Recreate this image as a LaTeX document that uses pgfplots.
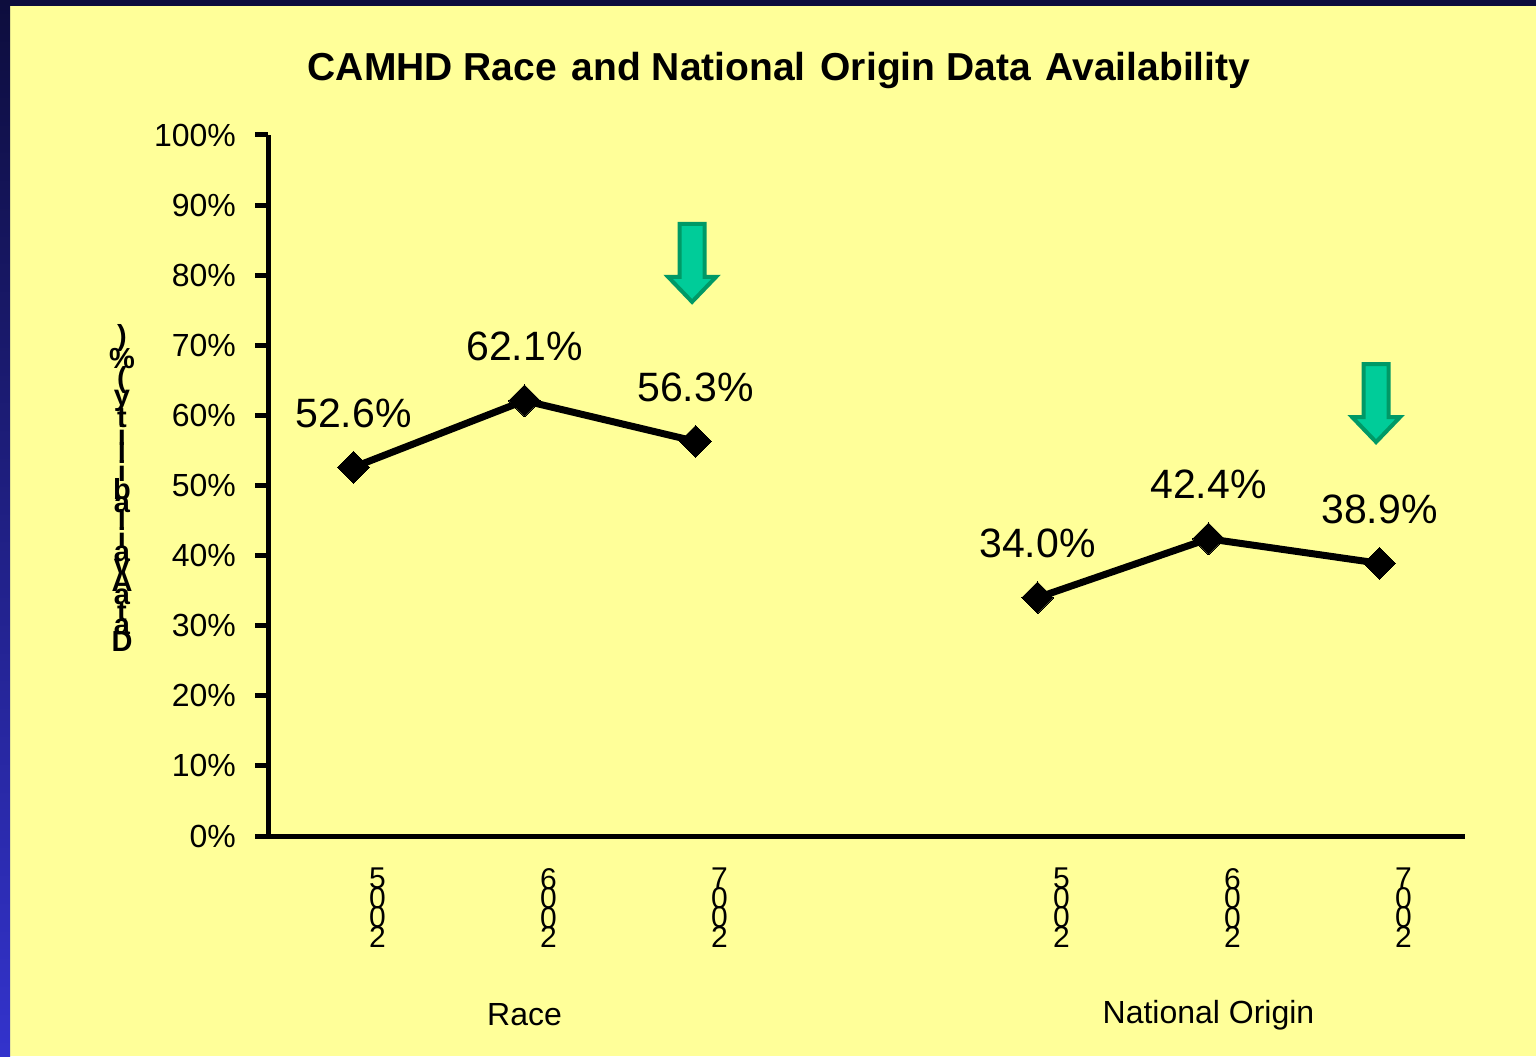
\documentclass[border=0pt]{standalone}
\usepackage{pgfplots}
\pgfplotsset{compat=1.18}
\usepackage{fontspec}
\setmainfont{Liberation Sans}

\definecolor{panel}{HTML}{FFFF99}
\definecolor{navy}{HTML}{0D0D3D}
\definecolor{edgeblue}{HTML}{3333CC}
\definecolor{arrowfill}{HTML}{00CC99}
\definecolor{arrowedge}{HTML}{009966}

% data availability by year (x = slot position)
\pgfplotstableread{
x   y
0.5 52.6
1.5 62.1
2.5 56.3
}\racedata
\pgfplotstableread{
x   y
4.5 34.0
5.5 42.4
6.5 38.9
}\origindata

% down arrow, tip at the given point
\tikzset{downarrow/.style={arrowedge, fill=arrowfill, line width=2pt, line join=miter}}
\newcommand{\downarrowpath}[1]{%
  ([xshift=-6.25pt,yshift=39pt]#1) -- ([xshift=6.25pt,yshift=39pt]#1)
  -- ([xshift=6.25pt,yshift=12.5pt]#1) -- ([xshift=12pt,yshift=12.5pt]#1)
  -- (#1) -- ([xshift=-12pt,yshift=12.5pt]#1)
  -- ([xshift=-6.25pt,yshift=12.5pt]#1) -- cycle}
% stacked year digits
\newcommand{\yr}[1]{#1\\[-8.25pt]0\\[-8.25pt]0\\[-8.25pt]2}

\begin{document}
\begin{tikzpicture}
% slide background
\fill[panel] (0,0) rectangle (768pt,528pt);
\fill[navy] (0,525pt) rectangle (768pt,528pt);
\shade[top color=navy, bottom color=edgeblue] (0,0) rectangle (5pt,528pt);

\node[font=\bfseries\fontsize{19.5}{23}\selectfont] at (389.5pt,492.5pt)
  {CAMHD Race\hspace{2pt} and National\hspace{2pt} Origin Data\hspace{2pt} Availability};

% y label as it appears: letters stacked
\node[font=\bfseries\fontsize{14.5}{9}\selectfont, align=center, inner sep=0pt] at (61pt,284pt)
  {)\\[-2.5pt]\%\\[-2.5pt](\\[-2.5pt]y\\[-2.5pt]t\\[-2.5pt]i\\[-2.5pt]l\\[-2.5pt]i\\[-2.5pt]b\\[-2.5pt]a\\[-2.5pt]l\\[-2.5pt]i\\[-2.5pt]a\\[-2.5pt]v\\[-2.5pt]A\\[-2.5pt]a\\[-2.5pt]t\\[-2.5pt]a\\[-2.5pt]D};

\begin{axis}[
    at={(134pt,110pt)}, anchor=origin,
    scale only axis,
    width=598.5pt, height=350.5pt,
    xmin=0, xmax=7, ymin=0, ymax=100,
    axis lines=left,
    axis line style={-, line width=2.5pt},
    clip=false,
    ytick={0,10,...,100},
    yticklabel={\pgfmathprintnumber{\tick}\%},
    yticklabel style={font=\fontsize{16}{19}\selectfont, anchor=east, xshift=-6pt},
    ytick style={line width=2.5pt, black},
    tick align=outside,
    major tick length=6.5pt,
    xtick={0.5,1.5,2.5,4.5,5.5,6.5},
    xticklabels={{\yr5},{\yr6},{\yr7},{\yr5},{\yr6},{\yr7}},
    xticklabel style={font=\fontsize{15}{18}\selectfont, align=center, anchor=north, xshift=12pt, yshift=-6pt},
    xtick style={draw=none},
    /pgf/number format/assume math mode=true,
    nodes near coords={\pgfmathprintnumber[fixed,fixed zerofill,precision=1]{\pgfplotspointmeta}\%},
    every node near coord/.append style={font=\fontsize{20.5}{24}\selectfont, anchor=center, yshift=27pt},
]
\addplot[black, line width=3.5pt, mark=square*, mark size=5.6pt,
  mark options={rotate=45, line width=0pt, fill=black}] table[x=x, y=y] {\racedata};
\addplot[black, line width=3.5pt, mark=square*, mark size=5.6pt,
  mark options={rotate=45, line width=0pt, fill=black}] table[x=x, y=y] {\origindata};

\node[font=\fontsize{16}{19}\selectfont] at (axis cs:1.5,0) [yshift=-89.5pt] {Race};
\node[font=\fontsize{16}{19}\selectfont] at (axis cs:5.5,0) [yshift=-89.5pt] {National Origin};

% highlight arrows
\draw[downarrow] \downarrowpath{axis cs:2.48,76.2};
\draw[downarrow] \downarrowpath{axis cs:6.48,56.2};
\end{axis}
\end{tikzpicture}
\end{document}
